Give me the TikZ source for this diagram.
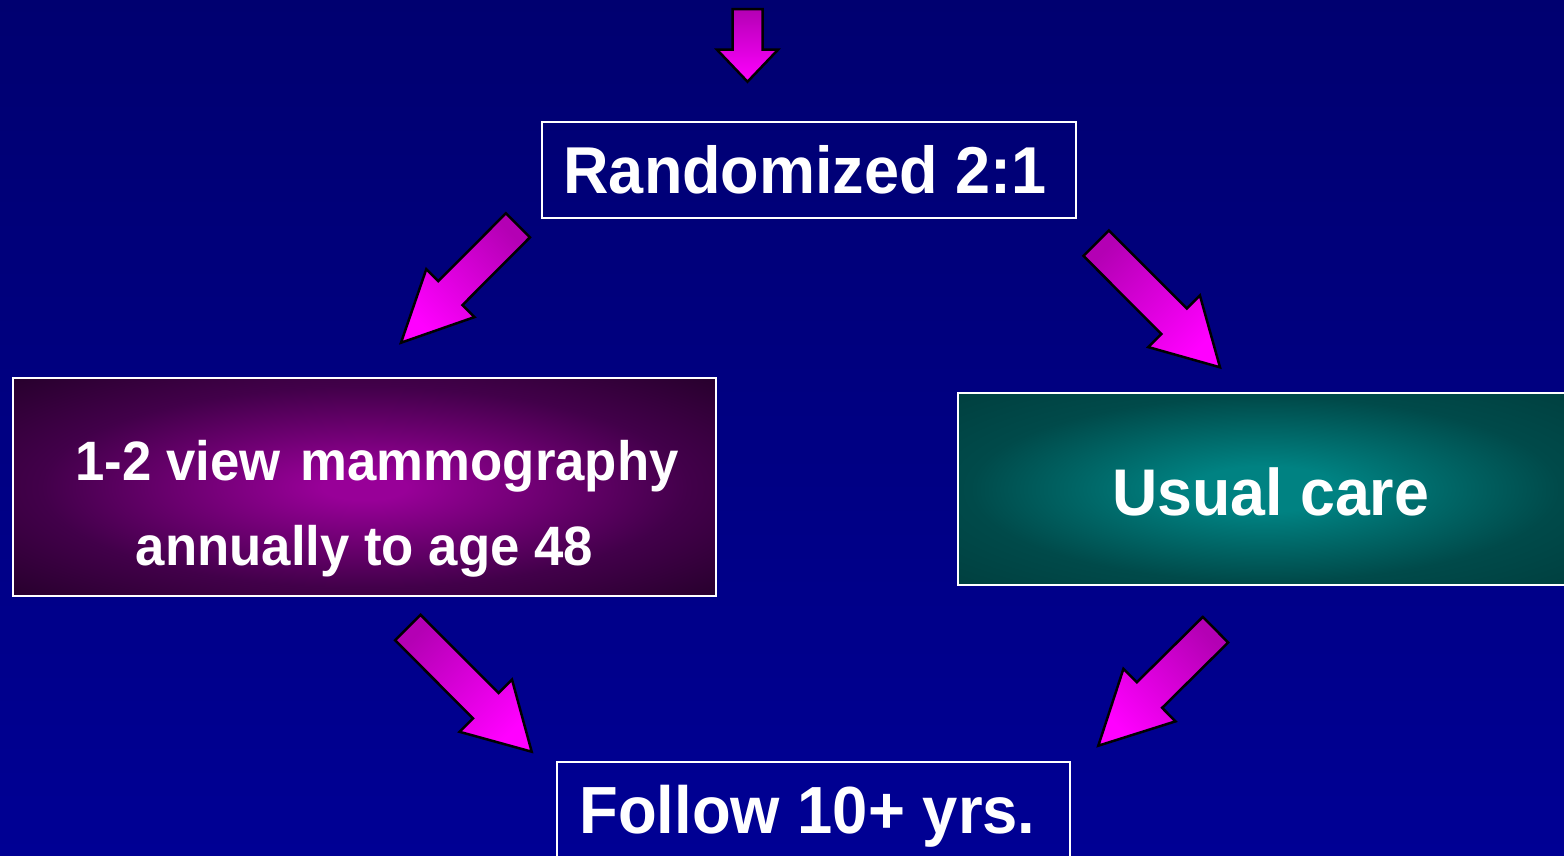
\documentclass[tikz,border=0pt]{standalone}
\usepackage{fontspec}
\newfontfamily\hf{Liberation Sans}[FakeStretch=0.95]
\usetikzlibrary{calc}
\definecolor{bgtop}{RGB}{0,0,112}
\definecolor{bgbot}{RGB}{0,0,148}
\definecolor{arrdark}{RGB}{180,0,180}
\definecolor{arrlight}{RGB}{255,0,255}
\definecolor{magin}{RGB}{152,0,152}
\definecolor{magmid}{RGB}{66,0,74}
\definecolor{magout}{RGB}{40,0,46}
\definecolor{tealin}{RGB}{0,130,130}
\definecolor{tealmid}{RGB}{0,74,74}
\definecolor{tealout}{RGB}{0,64,64}
\pgfdeclareradialshading{magrad}{\pgfpoint{0bp}{0bp}}{color(0bp)=(magin); color(3bp)=(magin); color(23bp)=(magmid); color(35bp)=(magout); color(50bp)=(magout)}
\pgfdeclareradialshading{tealrad}{\pgfpoint{0bp}{0bp}}{color(0bp)=(tealin); color(6bp)=(tealin); color(24bp)=(tealmid); color(35bp)=(tealout); color(50bp)=(tealout)}
\tikzset{
  boxline/.style={draw=white, line width=2pt, inner sep=0pt, outer sep=0pt, rectangle},
  txt/.style={text=white, inner sep=0pt, outer sep=0pt, anchor=base, font=\hf\bfseries},
  arrowstyle/.style={draw=black, line width=2.5pt, line join=miter, top color=arrdark, bottom color=arrlight}
}
% #1 name, #2 half shaft width, #3 half head width, #4 head length, #5 shading angle
\newcommand\blockarrow[5]{%
  \coordinate (#1-h) at ($(#1-p)!#4!(#1-t)$);
  \draw[arrowstyle, shading angle=#5]
    ($(#1-t)!#2!90:(#1-p)$) -- ($(#1-h)!#2!90:(#1-p)$) -- ($(#1-h)!#3!90:(#1-p)$)
    -- (#1-p) -- ($(#1-h)!#3!-90:(#1-p)$) -- ($(#1-h)!#2!-90:(#1-p)$)
    -- ($(#1-t)!#2!-90:(#1-p)$) -- cycle;
}
\begin{document}
\begin{tikzpicture}[x=1pt,y=-1pt]
\useasboundingbox (0,0) rectangle (1564,855);
\clip (0,0) rectangle (1564,855);
\fill[top color=bgtop, bottom color=bgbot] (0,0) rectangle (1564,855);

% boxes
\node[boxline, minimum width=534pt, minimum height=96pt] (rand) at (809,170) {};
\node[boxline, minimum width=703pt, minimum height=218pt, shade, shading=magrad] (mammo) at (364.5,487) {};
\node[boxline, minimum width=614pt, minimum height=192pt, shade, shading=tealrad] (usual) at (1265,489) {};
\node[boxline, minimum width=513pt, minimum height=108pt] (follow) at (813.5,816) {};

% texts
\node[txt, font=\hf\bfseries\fontsize{66.3}{79}\selectfont] (trand) at (805,193.3) {Randomized 2:1};
\node[txt, font=\hf\bfseries\fontsize{55.5}{66}\selectfont] (tm1) at (377,480) {1-2 view\hspace{5.5pt} mammography};
\node[txt, font=\hf\bfseries\fontsize{55.5}{66}\selectfont] (tm2) at (364.3,565) {annually to age 48};
\node[txt, font=\hf\bfseries\fontsize{66}{79}\selectfont] (tusual) at (1270.7,515) {Usual care};
\node[txt, font=\hf\bfseries\fontsize{66.7}{80}\selectfont] (tfollow) at (807.5,833.3) {Follow 10+ yrs.};

% arrows
\coordinate (a0-t) at (747.5,9);
\coordinate (a0-p) at (747.5,81.7);
\blockarrow{a0}{15pt}{30.5pt}{32pt}{0}

\coordinate (a1-t) at (517.9,225.3);
\coordinate (a1-p) at (401,342.7);
\blockarrow{a1}{17pt}{34pt}{70pt}{-45}

\coordinate (a2-t) at (1096.2,243.2);
\coordinate (a2-p) at (1220,367.3);
\blockarrow{a2}{18pt}{36.5pt}{65pt}{45}

\coordinate (a3-t) at (407.8,627.5);
\coordinate (a3-p) at (531.7,751.7);
\blockarrow{a3}{18pt}{37pt}{65pt}{45}

\coordinate (a4-t) at (1215.5,629.7);
\coordinate (a4-p) at (1098.3,745.7);
\blockarrow{a4}{18pt}{37pt}{72pt}{-45}
\end{tikzpicture}
\end{document}
